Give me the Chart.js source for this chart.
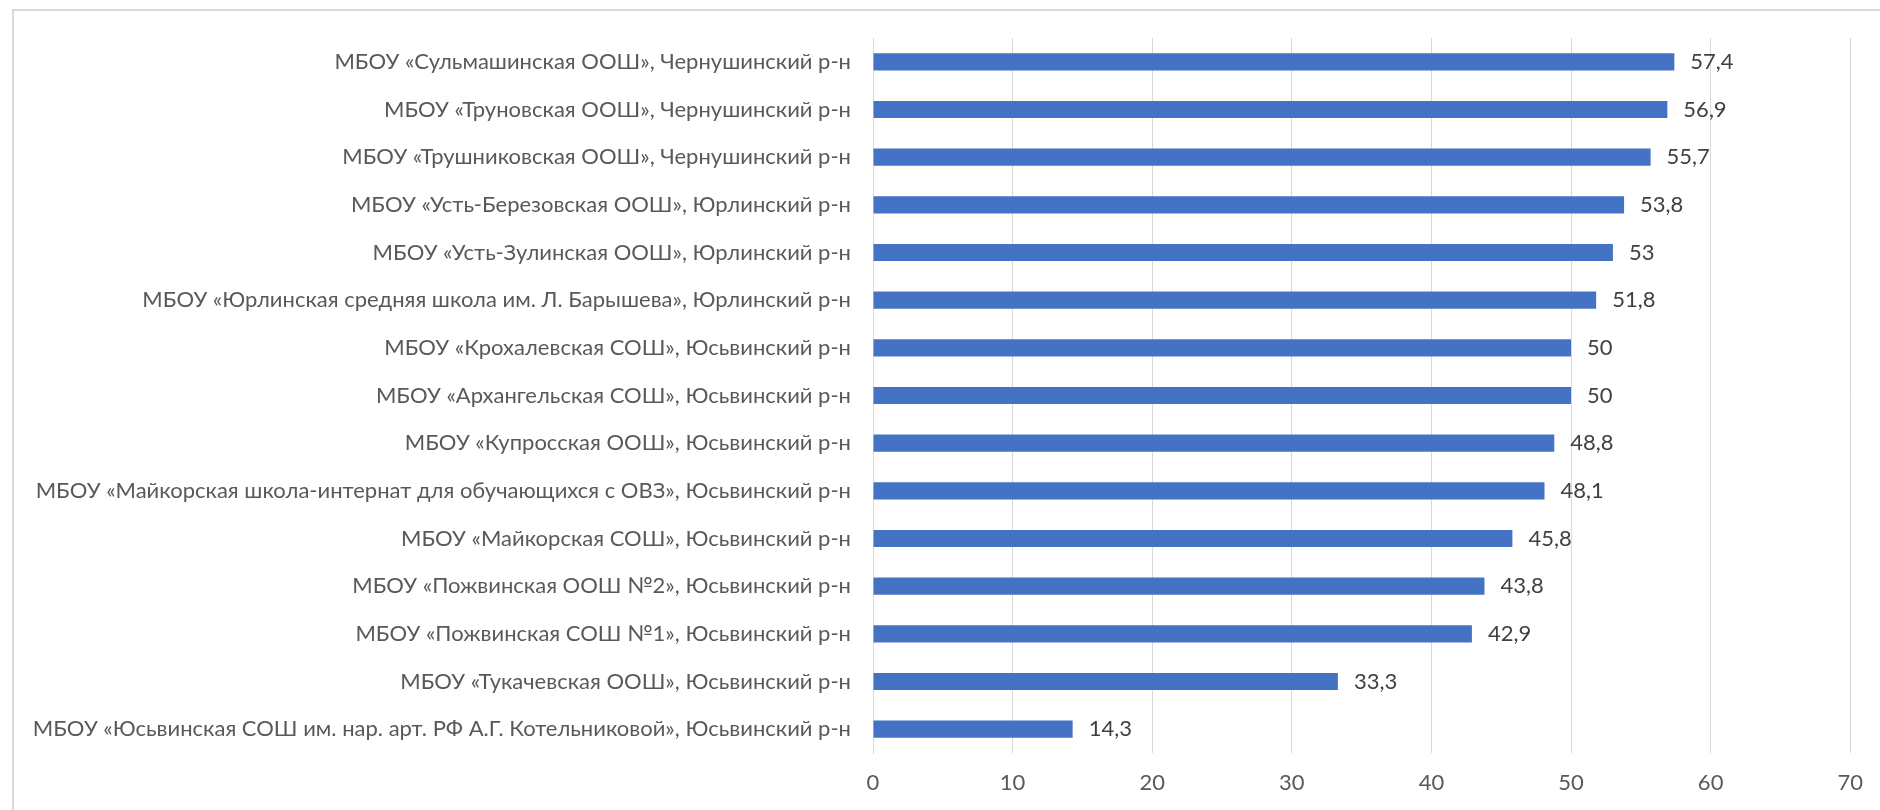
<!DOCTYPE html>
<html>
<head>
<meta charset="utf-8">
<script src="https://cdn.jsdelivr.net/npm/chart.js@4.4.0/dist/chart.umd.min.js"></script>
<style>
  html, body { margin: 0; padding: 0; background: #fff; }
  #wrap { position: relative; width: 1880px; height: 810px; overflow: hidden; }
  #frame { position: absolute; left: 12px; top: 9px; width: 1900px; height: 900px;
           border-top: 2px solid #d9d9d9; border-left: 2px solid #d9d9d9; }
  #graph { position: absolute; left: 0; top: 0; }
</style>
</head>
<body>
<div id="wrap">
  <div id="frame"></div>
  <canvas id="graph" width="1880" height="810"></canvas>
</div>
<script>
var schools = [
  "МБОУ «Сульмашинская ООШ», Чернушинский р-н",
  "МБОУ «Труновская ООШ», Чернушинский р-н",
  "МБОУ «Трушниковская ООШ», Чернушинский р-н",
  "МБОУ «Усть-Березовская ООШ», Юрлинский р-н",
  "МБОУ «Усть-Зулинская ООШ», Юрлинский р-н",
  "МБОУ «Юрлинская средняя школа им. Л. Барышева», Юрлинский р-н",
  "МБОУ «Крохалевская СОШ», Юсьвинский р-н",
  "МБОУ «Архангельская СОШ», Юсьвинский р-н",
  "МБОУ «Купросская ООШ», Юсьвинский р-н",
  "МБОУ «Майкорская школа-интернат для обучающихся с ОВЗ», Юсьвинский р-н",
  "МБОУ «Майкорская СОШ», Юсьвинский р-н",
  "МБОУ «Пожвинская ООШ №2», Юсьвинский р-н",
  "МБОУ «Пожвинская СОШ №1», Юсьвинский р-н",
  "МБОУ «Тукачевская ООШ», Юсьвинский р-н",
  "МБОУ «Юсьвинская СОШ им. нар. арт. РФ А.Г. Котельниковой», Юсьвинский р-н"
];

var results = [57.4, 56.9, 55.7, 53.8, 53, 51.8, 50, 50, 48.8, 48.1, 45.8, 43.8, 42.9, 33.3, 14.3];

var xTicks = [0, 10, 20, 30, 40, 50, 60, 70];

var fontFamily = "Lato, sans-serif";
var fontSize = 22;

// value labels right of each bar
var barLabels = {
  id: 'barLabels',
  afterDatasetsDraw: function (chart) {
    var c = chart.ctx;
    var meta = chart.getDatasetMeta(0);
    c.save();
    c.font = fontSize + "px " + fontFamily;
    c.fillStyle = "#404040";
    c.textAlign = "left";
    c.textBaseline = "middle";
    meta.data.forEach(function (bar, i) {
      c.fillText(String(results[i]).replace('.', ','), bar.x + 16, bar.y);
    });
    c.restore();
  }
};

var ctx = document.getElementById("graph").getContext('2d');

var myChart = new Chart(ctx, {
  type: 'bar',
  data: {
    labels: schools,
    datasets: [{
      data: results,
      backgroundColor: "#4472C4",
      barPercentage: 0.36,
      categoryPercentage: 1
    }]
  },
  plugins: [barLabels],
  options: {
    indexAxis: 'y',
    responsive: false,
    animation: false,
    layout: { padding: { top: 38, right: 27, left: 0, bottom: 0 } },
    plugins: {
      legend: { display: false },
      tooltip: { enabled: false }
    },
    scales: {
      x: {
        min: 0,
        max: 70,
        afterBuildTicks: function (axis) {
          axis.ticks = xTicks.map(function (v) { return { value: v }; });
        },
        afterFit: function (axis) { axis.height = 57; },
        grid: { color: "#d9d9d9", lineWidth: 1, drawTicks: false },
        border: { display: false },
        ticks: {
          padding: 17,
          color: "#595959",
          font: { family: fontFamily, size: fontSize }
        }
      },
      y: {
        afterFit: function (axis) { axis.width = 873; },
        grid: { display: false, drawTicks: false },
        border: { display: true, color: "#d9d9d9", width: 1 },
        ticks: {
          padding: 22,
          color: "#595959",
          autoSkip: false,
          font: { family: fontFamily, size: fontSize }
        }
      }
    }
  }
});
</script>
</body>
</html>
